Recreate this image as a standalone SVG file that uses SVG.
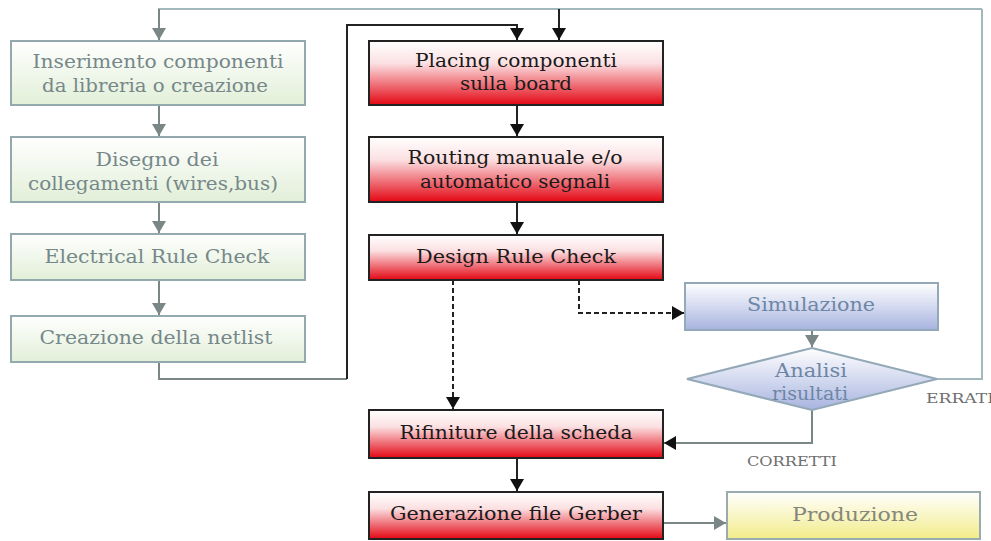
<svg xmlns="http://www.w3.org/2000/svg" width="991" height="541" viewBox="0 0 991 541">
<defs>
<linearGradient id="gGreen" x1="0" y1="0" x2="0" y2="1"><stop offset="0" stop-color="#ffffff"/><stop offset="1" stop-color="#e2efd8"/></linearGradient>
<linearGradient id="gRed" x1="0" y1="0" x2="0" y2="1"><stop offset="0" stop-color="#ffffff"/><stop offset="0.35" stop-color="#fbe0e2"/><stop offset="1" stop-color="#e30613"/></linearGradient>
<linearGradient id="gBlue" x1="0" y1="0" x2="0" y2="1"><stop offset="0" stop-color="#ffffff"/><stop offset="1" stop-color="#a8b4e0"/></linearGradient>
<linearGradient id="gYellow" x1="0" y1="0" x2="0" y2="1"><stop offset="0" stop-color="#ffffff"/><stop offset="1" stop-color="#f2ec8a"/></linearGradient>
<marker id="aBlack" markerUnits="userSpaceOnUse" markerWidth="16" markerHeight="14" refX="12" refY="7" orient="auto"><path d="M0,0 L12,7 L0,14 Z" fill="#111"/></marker>
<marker id="aGray" markerUnits="userSpaceOnUse" markerWidth="16" markerHeight="14" refX="12" refY="7" orient="auto"><path d="M0,0 L12,7 L0,14 Z" fill="#7b8686"/></marker>
<style>
text{font-family:"DejaVu Serif","Liberation Serif",serif;font-size:18px;text-anchor:middle}
.gbox{fill:url(#gGreen);stroke:#93a9ad;stroke-width:2}
.rbox{fill:url(#gRed);stroke:#222;stroke-width:2}
.bbox{fill:url(#gBlue);stroke:#93a9b8;stroke-width:2}
.ybox{fill:url(#gYellow);stroke:#9aabae;stroke-width:2}
.gt{fill:#76888a}
.rt{fill:#1a1a1a}
.bt{fill:#6d86a6}
.yt{fill:#85877e}
.lbl{font-size:13px;fill:#6e6e6e}
.cg{fill:none;stroke:#7b8686;stroke-width:2}
.cl{fill:none;stroke:#a3b8bd;stroke-width:2}
.cb{fill:none;stroke:#222;stroke-width:2}
.cd{fill:none;stroke:#222;stroke-width:2;stroke-dasharray:5,3}
</style>
</defs>
<rect width="991" height="541" fill="#ffffff"/>
<g id="connectors">
<path class="cl" d="M982,9 L982,379 L937,379"/>
<path class="cl" d="M159,41 L159,9 L982,9" />
<path class="cg" d="M159,9 L159,40" marker-end="url(#aGray)"/>
<path class="cb" d="M559,9 L559,40" marker-end="url(#aBlack)"/>
<path class="cg" d="M159,105 L159,136" marker-end="url(#aGray)"/>
<path class="cg" d="M159,202 L159,233" marker-end="url(#aGray)"/>
<path class="cg" d="M159,280 L159,315" marker-end="url(#aGray)"/>
<path class="cg" d="M159,362 L159,379 L347,379"/>
<path class="cb" d="M347,379 L347,25 L517,25 L517,40" marker-end="url(#aBlack)"/>
<path class="cb" d="M517,105 L517,136" marker-end="url(#aBlack)"/>
<path class="cb" d="M517,202 L517,234" marker-end="url(#aBlack)"/>
<path class="cd" d="M453,280 L453,409" marker-end="url(#aBlack)"/>
<path class="cd" d="M579,280 L579,313 L684,313" marker-end="url(#aBlack)"/>
<path class="cg" d="M812,330 L812,347" marker-end="url(#aGray)"/>
<path class="cg" d="M812,410 L812,443 L664,443" marker-end="url(#aBlack)"/>
<path class="cb" d="M517,458 L517,491" marker-end="url(#aBlack)"/>
<path class="cg" d="M663,523 L726,523" marker-end="url(#aGray)"/>
</g>
<g id="n1"><rect class="gbox" x="11" y="41" width="294" height="64"/><text class="gt" x="158" y="68" textLength="251" lengthAdjust="spacingAndGlyphs">Inserimento componenti</text><text class="gt" x="155" y="92" textLength="226" lengthAdjust="spacingAndGlyphs">da libreria o creazione</text></g>
<g id="n2"><rect class="gbox" x="11" y="137" width="294" height="65"/><text class="gt" x="157" y="166" textLength="123" lengthAdjust="spacingAndGlyphs">Disegno dei</text><text class="gt" x="153" y="190" textLength="250" lengthAdjust="spacingAndGlyphs">collegamenti (wires,bus)</text></g>
<g id="n3"><rect class="gbox" x="11" y="234" width="294" height="46"/><text class="gt" x="157" y="263" textLength="225" lengthAdjust="spacingAndGlyphs">Electrical Rule Check</text></g>
<g id="n4"><rect class="gbox" x="11" y="316" width="294" height="46"/><text class="gt" x="156" y="344" textLength="233" lengthAdjust="spacingAndGlyphs">Creazione della netlist</text></g>
<g id="n5"><rect class="rbox" x="369" y="41" width="294" height="64"/><text class="rt" x="516" y="67" textLength="202" lengthAdjust="spacingAndGlyphs">Placing componenti</text><text class="rt" x="516" y="90" textLength="112" lengthAdjust="spacingAndGlyphs">sulla board</text></g>
<g id="n6"><rect class="rbox" x="369" y="137" width="294" height="65"/><text class="rt" x="515" y="164" textLength="215" lengthAdjust="spacingAndGlyphs">Routing manuale e/o</text><text class="rt" x="515" y="188" textLength="190" lengthAdjust="spacingAndGlyphs">automatico segnali</text></g>
<g id="n7"><rect class="rbox" x="369" y="235" width="294" height="45"/><text class="rt" x="516" y="263" textLength="200" lengthAdjust="spacingAndGlyphs">Design Rule Check</text></g>
<g id="n8"><rect class="bbox" x="685" y="283" width="253" height="47"/><text class="bt" x="811" y="311" textLength="128" lengthAdjust="spacingAndGlyphs">Simulazione</text></g>
<g id="n9"><path class="bbox" d="M812,348 L937,379 L812,410 L687,379 Z"/><text class="bt" x="811" y="377" textLength="72" lengthAdjust="spacingAndGlyphs">Analisi</text><text class="bt" x="810" y="400" textLength="76" lengthAdjust="spacingAndGlyphs">risultati</text></g>
<g id="n10"><rect class="rbox" x="369" y="410" width="294" height="48"/><text class="rt" x="516" y="439" textLength="233" lengthAdjust="spacingAndGlyphs">Rifiniture della scheda</text></g>
<g id="n11"><rect class="rbox" x="369" y="492" width="294" height="47"/><text class="rt" x="516" y="520" textLength="252" lengthAdjust="spacingAndGlyphs">Generazione file Gerber</text></g>
<g id="n12"><rect class="ybox" x="727" y="492" width="253" height="47"/><text class="yt" x="855" y="521" textLength="126" lengthAdjust="spacingAndGlyphs">Produzione</text></g>
<text class="lbl" x="792" y="466" textLength="90" lengthAdjust="spacingAndGlyphs">CORRETTI</text>
<text class="lbl" x="926" y="403" style="text-anchor:start" textLength="68" lengthAdjust="spacingAndGlyphs">ERRATI</text>
</svg>
